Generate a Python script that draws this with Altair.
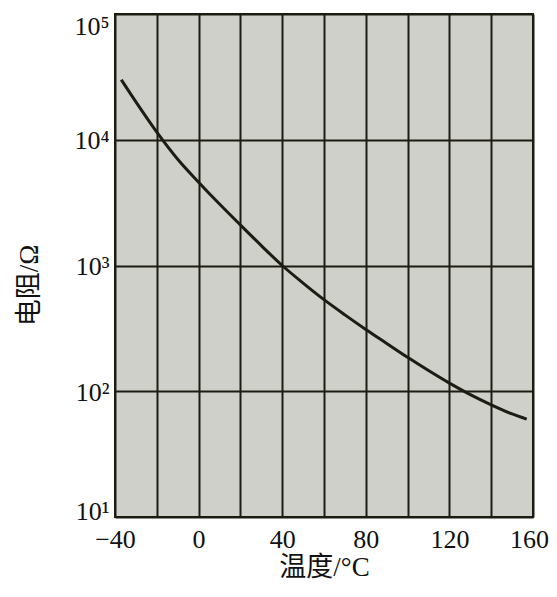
import altair as alt
import pandas as pd

# data (temperature °C, resistance Ω)
temps = [-37, -30, -20, -10, 0, 10, 20, 30, 40, 50, 60, 70, 80, 90, 100, 110, 120, 130, 140, 150, 157]
resist = [30000, 20000, 11500, 7000, 4600, 3080, 2100, 1440, 1000, 725, 535, 405, 310, 240, 186, 146, 116, 94, 78, 66, 60]

x_ticks = [-40, -20, 0, 20, 40, 60, 80, 100, 120, 140, 160]
y_ticks = [10, 100, 1000, 10000, 100000]

df = pd.DataFrame({"t": temps, "r": resist})

SERIF = "Liberation Serif, Noto Sans CJK SC"
DARK = "#1c1c12"

line = alt.Chart(df).mark_line(color=DARK, strokeWidth=3, interpolate="monotone").encode(
    x=alt.X("t:Q",
            scale=alt.Scale(domain=[-40, 160], nice=False, zero=False),
            axis=alt.Axis(values=x_ticks, grid=True, gridColor=DARK, gridWidth=2, gridOpacity=1,
                          ticks=False, domain=False,
                          labelExpr="datum.value % 40 == 0 ? datum.label : ''",
                          labelFont="Liberation Serif", labelFontSize=26, labelColor="#111",
                          labelPadding=9, labelFlush=False,
                          labelOffset={"condition": {"test": "datum.value >= 160", "value": -4},
                                       "value": 0},
                          title="温度/°C", titleFont=SERIF, titleFontSize=27,
                          titleFontWeight="normal", titleColor="#111",
                          titleBaseline="alphabetic", titleY=58)),
    y=alt.Y("r:Q",
            scale=alt.Scale(type="log", domain=[10, 100000], nice=False),
            axis=alt.Axis(values=y_ticks, grid=True, gridColor=DARK, gridWidth=2, gridOpacity=1,
                          ticks=False, domain=False,
                          labelExpr="'10' + ['⁰','¹','²','³','⁴','⁵'][round(log(datum.value)/LN10)]",
                          labelFont="Liberation Serif", labelFontSize=26, labelColor="#111",
                          labelPadding=6, labelFlush=False, labelBaseline="middle",
                          labelOffset={"condition": [{"test": "datum.value >= 100000", "value": 12},
                                                     {"test": "datum.value <= 10", "value": -6}],
                                       "value": 1},
                          title="电阻/Ω", titleFont=SERIF, titleFontSize=27,
                          titleFontWeight="normal", titleColor="#111",
                          titleY=271, titleX=-72)),
)

chart = line.properties(
    width=418, height=503,
    autosize=alt.AutoSizeParams(type="none"),
    padding={"left": 107, "top": 6, "right": 16, "bottom": 66},
).configure_view(fill="#d0d0cb", stroke=DARK, strokeWidth=2)

chart.save("out.html", embed_options={"renderer": "svg", "actions": False})
